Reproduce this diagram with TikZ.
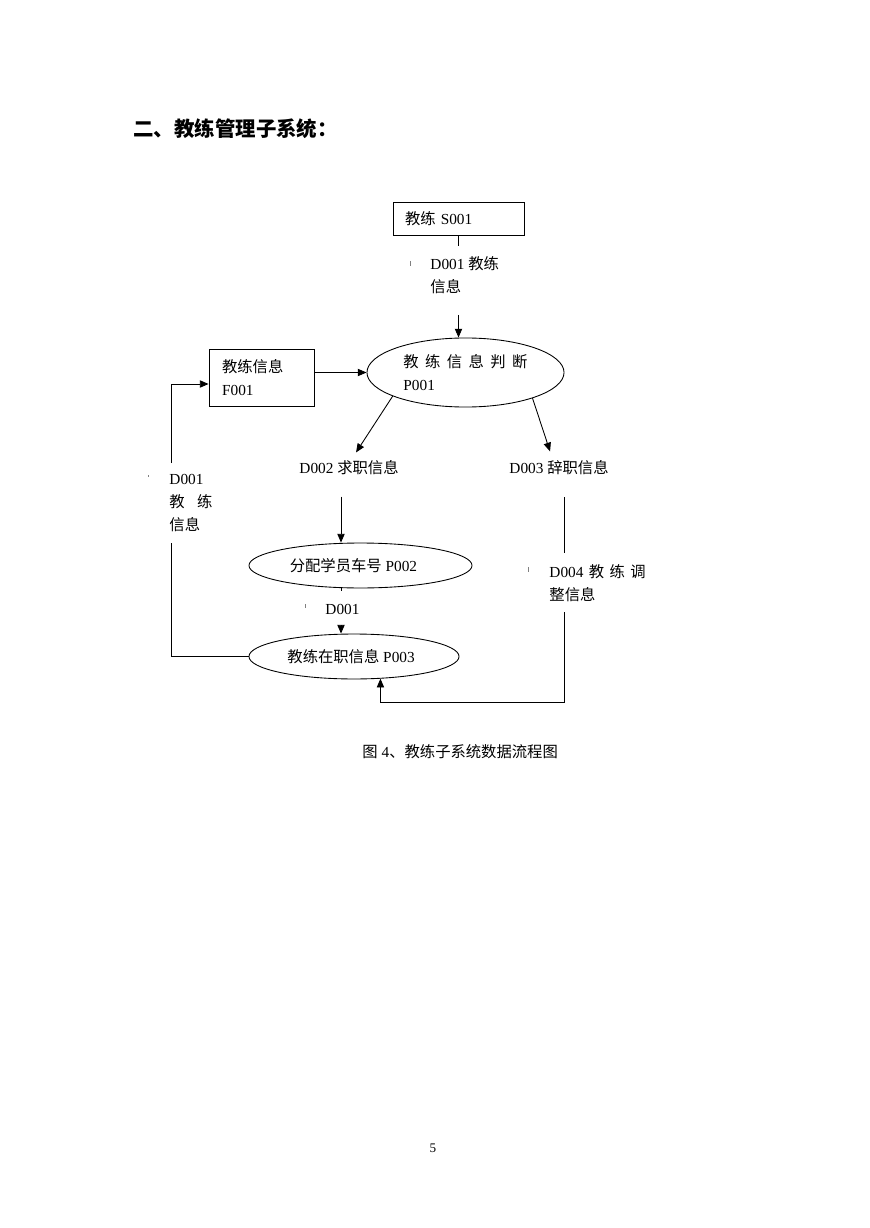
\documentclass[tikz,border=0pt]{standalone}
\usepackage{fontspec}
\setmainfont{Liberation Serif}
\newfontfamily\cjk{Noto Sans CJK SC}
\newcommand{\zh}[1]{{\cjk #1}}
\usetikzlibrary{arrows.meta,calc,shapes.geometric}

\tikzset{
  flowbox/.style={draw, rectangle, align=left, inner sep=0pt},
  proc/.style={draw, ellipse, inner sep=0pt},
  lbl/.style={inner sep=0pt, align=left, anchor=west},
  tick/.style={line width=0.4pt, gray},
}

\begin{document}
\begin{tikzpicture}[x=0.685pt, y=-0.685pt, line width=0.6pt,
  >={Triangle[length=6pt,width=5pt]},
  every node/.style={font=\fontsize{10.5}{15.7}\selectfont}]
\useasboundingbox (0,0) rectangle (869,1228);

% heading
\node[lbl, font=\fontsize{14}{16}\selectfont\cjk\bfseries] (title) at (133,129) {二、教练管理子系统：};

% stores, sources and processes
\node[flowbox, minimum width=89.7pt, minimum height=22.6pt, text width=73.3pt] (s1) at (458.5,218.5) {\zh{教练} S001};
\node[flowbox, minimum width=71.9pt, minimum height=39pt, text width=54pt] (f1) at (261.5,377.5) {\zh{教练信息}\\F001};
\node[proc, minimum width=135pt, minimum height=47.3pt, text width=85pt, align=left] (p1) at (465.5,372.5)
  {\zh{教\hfill 练\hfill 信\hfill 息\hfill 判\hfill 断}\\P001};
\node[proc, minimum width=152.8pt, minimum height=30.8pt] (p2) at (360.5,565.5) {\zh{分配学员车号} P002\hspace*{9.6pt}\mbox{}};
\node[proc, minimum width=143.9pt, minimum height=30.8pt] (p3) at (354,656.5) {\zh{教练在职信息} P003\hspace*{4pt}\mbox{}};

% data flow labels
\node[lbl, text width=47pt] (d1) at (430,275.5) {D001\hfill\zh{教练}\\\zh{信息}};
\node[lbl] (d2) at (299,468) {D002 \zh{求职信息}};
\node[lbl] (d3) at (509,468) {D003 \zh{辞职信息}};
\node[lbl, text width=29.5pt] (d1b) at (169,503) {D001\\\zh{教\hfill 练}\\\zh{信息}};
\node[lbl] (d1c) at (325,609) {D001};
\node[lbl, text width=66pt] (d4) at (549,583) {D004\hfill\zh{教}\hfill\zh{练}\hfill\zh{调}\\\zh{整信息}};

% caption and page number
\node[lbl] (cap) at (362,752) {\zh{图} 4\zh{、教练子系统数据流程图}};
\node[font=\fontsize{9}{11}\selectfont] (page) at (433,1148) {5};

% flows
\coordinate (xm) at (341,600);
\coordinate (c1) at (458.5,246);
\coordinate (c2) at (458.5,315);
\draw (s1) -- (c1);
\draw[->] (c2) -- (c2 |- p1.north);
\draw[->] (f1.east |- p1.west) -- (p1.west);
\draw[->] (p1.198) -- ($(d2.north)+(7,-8)$);
\draw[->] (p1.339) -- ($(d3.north)+(-9,-9)$);
\draw[->] ($(xm |- d2.south)+(0,21)$) -- (xm |- p2.north);
\coordinate (c5) at (341,591);
\coordinate (c6) at (341,625);
\draw (xm |- p2.south) -- (c5);
\draw[->] (c6) -- (xm |- p3.north);

% feedback to the store
\coordinate (c7) at (171,463);
\coordinate (c8) at (171,543);
\draw[->] (c7) |- ($(f1.west)+(0,6.5)$);
\draw (c8) |- (p3.west);

% adjustment flow
\coordinate (c9) at (564,497);
\coordinate (c10) at (564,553);
\coordinate (c11) at (564,612);
\coordinate (c12) at (564,702);
\draw (c9) -- (c10);
\draw[->] (c11) -- (c12) -| (p3.320);

% small marks left by the text boxes
\draw[tick] (410,261) -- (410,266);
\draw[tick] (148,475) -- (148,477);
\draw[tick] (305,604) -- (305,608);
\draw[tick] (528,567) -- (528,572);
\end{tikzpicture}
\end{document}
